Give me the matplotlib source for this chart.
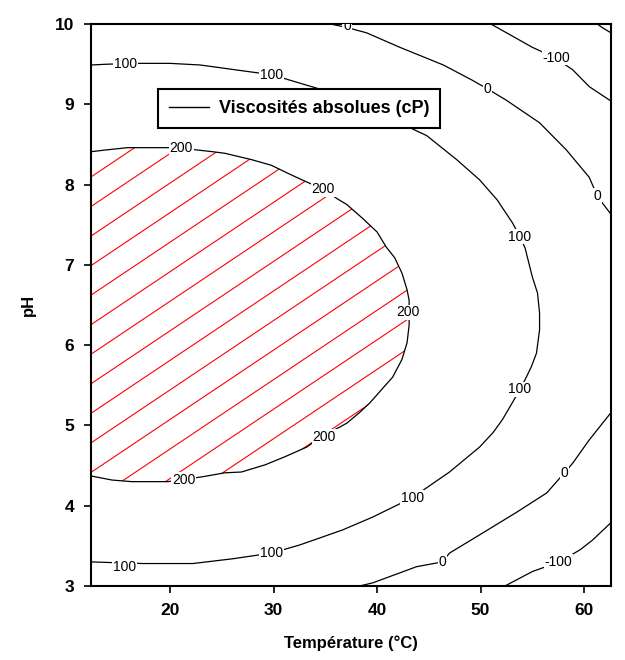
import numpy as np
import matplotlib.pyplot as plt
from matplotlib.patches import Polygon
from matplotlib.lines import Line2D

plt.rcParams['font.family'] = ['Liberation Sans', 'DejaVu Sans']

# iso-viscosity lines (temperature °C, pH)
T_200 = [12.4, 13.7, 15.9, 19.8, 22.0, 24.1, 25.3, 27.9, 29.8, 31.4, 32.4, 34.8, 36.2, 37.1,
         38.6, 40.0, 40.9, 41.7, 42.4, 42.9, 43.1, 43.1, 42.9, 42.4, 41.5, 40.6, 39.3, 38.3,
         37.1, 36.4, 34.6, 33.2, 31.1, 29.2, 26.9, 25.3, 23.1, 19.8, 16.3, 14.4, 12.4]
pH_200 = [8.41, 8.43, 8.46, 8.46, 8.44, 8.41, 8.39, 8.31, 8.24, 8.14, 8.08, 7.94, 7.82, 7.75,
          7.58, 7.41, 7.22, 7.09, 6.90, 6.69, 6.56, 6.25, 6.03, 5.82, 5.60, 5.47, 5.28, 5.16,
          5.03, 4.98, 4.86, 4.73, 4.61, 4.51, 4.42, 4.41, 4.36, 4.30, 4.30, 4.32, 4.37]

T_100 = [12.4, 14.0, 17.0, 20.0, 22.9, 28.0, 29.8, 31.6, 34.2, 39.5, 44.8, 47.7, 49.9, 51.6,
         53.1, 53.8, 54.3, 55.0, 55.5, 55.7, 55.7, 55.4, 54.9, 54.3, 53.8, 53.1, 52.1, 51.2,
         49.9, 47.0, 43.4, 39.6, 36.7, 34.5, 32.5, 29.8, 26.1, 22.2, 17.4, 12.4]
pH_100 = [9.49, 9.50, 9.51, 9.51, 9.49, 9.40, 9.37, 9.30, 9.20, 8.93, 8.61, 8.31, 8.06, 7.81,
          7.52, 7.35, 7.21, 6.85, 6.65, 6.40, 6.19, 5.90, 5.73, 5.57, 5.45, 5.29, 5.07, 4.91,
          4.73, 4.42, 4.10, 3.86, 3.70, 3.60, 3.51, 3.41, 3.34, 3.28, 3.28, 3.30]

T_0a = [35.5, 37.0, 39.0, 42.2, 46.4, 49.2, 50.7, 52.5, 55.7, 58.3, 60.5, 61.3, 62.6]
pH_0a = [10.0, 9.96, 9.89, 9.71, 9.49, 9.30, 9.19, 9.05, 8.77, 8.43, 8.09, 7.85, 7.63]

T_0b = [62.6, 60.5, 58.9, 58.1, 56.4, 53.5, 50.2, 47.0, 46.3, 43.8, 39.6, 38.3]
pH_0b = [5.16, 4.82, 4.53, 4.41, 4.16, 3.92, 3.66, 3.41, 3.30, 3.24, 3.04, 3.00]

T_m100a = [51.0, 55.0, 57.2, 58.9, 60.5, 62.6]
pH_m100a = [10.0, 9.71, 9.58, 9.43, 9.22, 9.04]

T_m100b = [62.6, 60.8, 59.6, 57.6, 55.0, 52.5, 52.3]
pH_m100b = [3.79, 3.57, 3.45, 3.30, 3.18, 3.01, 3.00]

T_m200 = [61.3, 61.7, 62.6]
pH_m200 = [10.0, 9.96, 9.89]

# contour labels
lab_txt = ['100', '100', '0', '0', '-100', '0', '200', '200', '100', '200', '100',
           '200', '200', '100', '0', '100', '100', '0', '-100']
lab_T = [15.7, 29.8, 37.1, 50.7, 57.3, 61.3, 21.1, 34.8, 53.8, 43.0, 53.8,
         34.9, 21.3, 43.4, 58.1, 29.8, 15.6, 46.3, 57.5]
lab_pH = [9.50, 9.37, 9.97, 9.19, 9.58, 7.86, 8.46, 7.94, 7.35, 6.41, 5.45,
          4.86, 4.32, 4.10, 4.41, 3.41, 3.24, 3.30, 3.30]

fig = plt.figure(figsize=(6.25, 6.6), dpi=100)
ax = fig.add_axes([0.1456, 0.1121, 0.832, 0.8515])
ax.set_xlim(12.37, 62.6)
ax.set_ylim(3, 10)

# red hatching inside the 200 cP zone
zone = Polygon(np.column_stack([T_200, pH_200]), closed=True, facecolor='none',
               edgecolor='none')
ax.add_patch(zone)
slope = 0.0864
step = 0.368
for c in np.arange(8.095 + 2 * step, 1.0, -step):
    ln, = ax.plot([12.37, 45], [c, c + slope * (45 - 12.37)], color='red', lw=0.8)
    ln.set_clip_path(zone)

for T, pH in [(T_200, pH_200), (T_100, pH_100), (T_0a, pH_0a), (T_0b, pH_0b),
              (T_m100a, pH_m100a), (T_m100b, pH_m100b), (T_m200, pH_m200)]:
    ax.plot(T, pH, color='black', lw=0.9)

for s, x, y in zip(lab_txt, lab_T, lab_pH):
    ax.text(x, y, s, fontsize=10, ha='center', va='center', clip_on=True,
            bbox=dict(facecolor='white', edgecolor='none', pad=0.5))

ax.set_xticks([20, 30, 40, 50, 60])
ax.set_yticks([3, 4, 5, 6, 7, 8, 9, 10])
ax.tick_params(direction='out', length=5, width=1.2, labelsize=12.5, pad=7)
for lab in ax.get_xticklabels() + ax.get_yticklabels():
    lab.set_fontweight('bold')
for sp in ax.spines.values():
    sp.set_linewidth(1.5)

ax.set_xlabel('Température (°C)', fontsize=12, fontweight='bold', labelpad=13)
ax.set_ylabel('pH', fontsize=12, fontweight='bold', labelpad=14)

handle = Line2D([], [], color='black', lw=1)
leg = ax.legend([handle], ['Viscosités absolues (cP)'], loc='upper left',
                bbox_to_anchor=(0.129, 0.884), borderaxespad=0, fancybox=False,
                framealpha=1, edgecolor='black', handlelength=2.2, handletextpad=0.55,
                borderpad=0.6, prop={'size': 13, 'weight': 'bold'})
leg.get_frame().set_linewidth(1.5)
leg.set_zorder(5)

fig.savefig('out.png', dpi=100)
